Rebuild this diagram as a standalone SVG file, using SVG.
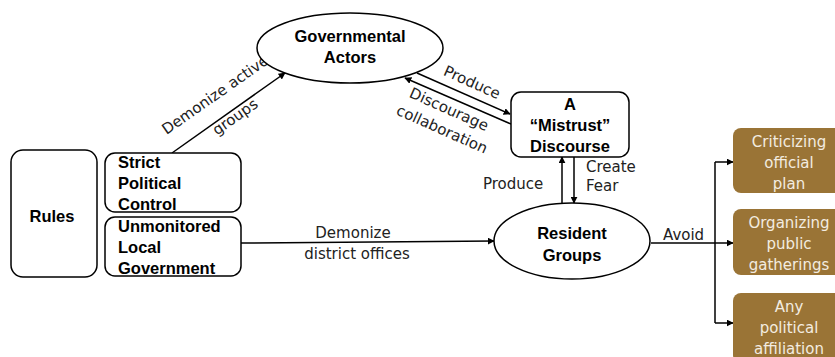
<svg xmlns="http://www.w3.org/2000/svg" width="835" height="357" viewBox="0 0 835 357">
<defs>
<marker id="ah" viewBox="0 0 10 10" refX="9" refY="5" markerWidth="7" markerHeight="7" markerUnits="userSpaceOnUse" orient="auto">
<path d="M0,0 L10,5 L0,10 z" fill="#000"/>
</marker>
<style>
.shape{fill:#fff;stroke:#000;stroke-width:1.5}
.b{font-family:"Liberation Sans",Arial,sans-serif;font-weight:bold;font-size:16.5px;fill:#000}
.l{font-family:"DejaVu Sans",sans-serif;font-size:15px;fill:#222}
.w{font-family:"DejaVu Sans",sans-serif;font-size:15px;fill:#f3ece0;text-anchor:middle}
.brown{fill:#9a7436;stroke:none}
.c{fill:none;stroke:#000;stroke-width:1.5}
.m{text-anchor:middle}
</style>
</defs>
<rect width="835" height="357" fill="#fff"/>
<g id="connectors">
<line class="c" x1="172" y1="153" x2="285" y2="73" marker-end="url(#ah)"/>
<line class="c" x1="417" y1="73" x2="510" y2="114" marker-end="url(#ah)"/>
<line class="c" x1="511" y1="124" x2="405" y2="78" marker-end="url(#ah)"/>
<line class="c" x1="562" y1="203" x2="562" y2="157" marker-end="url(#ah)"/>
<line class="c" x1="574" y1="157" x2="574" y2="203" marker-end="url(#ah)"/>
<line class="c" x1="241" y1="243" x2="494" y2="241" marker-end="url(#ah)"/>
<path class="c" d="M651,243 H715"/>
<path class="c" d="M715,162 V323"/>
<line class="c" x1="715" y1="162" x2="733" y2="162" marker-end="url(#ah)"/>
<line class="c" x1="715" y1="243" x2="733" y2="243" marker-end="url(#ah)"/>
<line class="c" x1="715" y1="323" x2="733" y2="323" marker-end="url(#ah)"/>
<g class="l">
<text class="m" transform="translate(218,99) rotate(-35)">Demonize active</text>
<text class="m" transform="translate(238,121) rotate(-35)">groups</text>
<text class="m" transform="translate(470,87) rotate(24)">Produce</text>
<text class="m" transform="translate(447,114) rotate(24)">Discourage</text>
<text class="m" transform="translate(440,134) rotate(24)">collaboration</text>
<text x="483" y="189">Produce</text>
<text x="586" y="172">Create</text>
<text x="586" y="191">Fear</text>
<text class="m" x="353" y="238">Demonize</text>
<text class="m" x="357" y="259">district offices</text>
<text x="663" y="240">Avoid</text>
</g>
</g>
<g id="rules">
<rect class="shape" x="11" y="150" width="86" height="127" rx="12"/>
<text class="b m" x="52" y="222">Rules</text>
</g>
<g id="strict">
<rect class="shape" x="105" y="153" width="136" height="59" rx="10"/>
<text class="b" x="118" y="168">Strict</text>
<text class="b" x="118" y="189">Political</text>
<text class="b" x="118" y="210">Control</text>
</g>
<g id="unmonitored">
<rect class="shape" x="105" y="217" width="136" height="59" rx="10"/>
<text class="b" x="118" y="232">Unmonitored</text>
<text class="b" x="118" y="253">Local</text>
<text class="b" x="118" y="274">Government</text>
</g>
<g id="governmental">
<ellipse class="shape" cx="350" cy="48" rx="93" ry="35"/>
<text class="b m" x="350" y="42">Governmental</text>
<text class="b m" x="350" y="63">Actors</text>
</g>
<g id="mistrust">
<rect class="shape" x="511" y="92" width="118" height="65" rx="10"/>
<text class="b m" x="570" y="110">A</text>
<text class="b m" x="570" y="131">“Mistrust”</text>
<text class="b m" x="570" y="152">Discourse</text>
</g>
<g id="resident">
<ellipse class="shape" cx="572" cy="241" rx="78" ry="38"/>
<text class="b m" x="572" y="239">Resident</text>
<text class="b m" x="572" y="261">Groups</text>
</g>
<g id="criticizing">
<rect class="brown" x="733" y="128" width="114" height="65" rx="8"/>
<text class="w" x="789" y="147">Criticizing</text>
<text class="w" x="789" y="168">official</text>
<text class="w" x="789" y="189">plan</text>
</g>
<g id="organizing">
<rect class="brown" x="733" y="209" width="114" height="66" rx="8"/>
<text class="w" x="789" y="228">Organizing</text>
<text class="w" x="789" y="249">public</text>
<text class="w" x="789" y="270">gatherings</text>
</g>
<g id="affiliation">
<rect class="brown" x="733" y="293" width="114" height="70" rx="8"/>
<text class="w" x="789" y="312">Any</text>
<text class="w" x="789" y="333">political</text>
<text class="w" x="789" y="354">affiliation</text>
</g>
</svg>
